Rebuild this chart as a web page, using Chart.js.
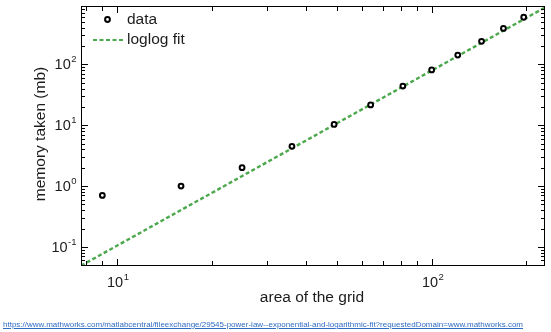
<!DOCTYPE html>
<html>
<head>
<meta charset="utf-8">
<script src="https://cdn.jsdelivr.net/npm/chart.js@4"></script>
<style>
  html, body { margin: 0; padding: 0; background: #fff; }
  #wrap { position: relative; width: 551px; height: 332px; }
  #src {
    position: absolute; left: 3px; top: 320px;
    font: 8px "Liberation Sans", Arial, sans-serif;
    color: #2e6bc4; text-decoration: underline; white-space: nowrap;
  }
</style>
</head>
<body>
<div id="wrap">
  <canvas id="chart" width="551" height="332"></canvas>
  <div id="src">https://www.mathworks.com/matlabcentral/fileexchange/29545-power-law--exponential-and-logarithmic-fit?requestedDomain=www.mathworks.com</div>
</div>
<script>
// grid area vs. memory used
const gridArea = [9, 16, 25, 36, 49, 64, 81, 100, 121, 144, 169, 196];
const memoryMb = [0.7, 1.0, 2.0, 4.5, 10.3, 21.5, 44, 81, 142, 239, 390, 594];

// power-law fit, end points of the straight loglog line
const fitX = [7.7, 229];
const fitY = [0.049, 860];

// axis limits
const xLimits = [7.7, 229];
const yLimits = [0.0485, 910];

const legendLabels = ['data', 'loglog fit'];
const xTitle = 'area of the grid';
const yTitle = 'memory taken (mb)';

const FONT = '"Liberation Sans", Arial, sans-serif';
const INK = '#1c1c1c';
const GREEN = 'rgb(76,168,76)';

function decadeTicks(min, max) {
  const out = [];
  for (let e = Math.floor(Math.log10(min)); e <= Math.ceil(Math.log10(max)); e++) {
    for (let m = 1; m <= 9; m++) {
      const v = m * Math.pow(10, e);
      if (v >= min && v <= max) out.push({ v, major: m === 1, exp: e });
    }
  }
  return out;
}

function powerLabel(ctx, exp, x, y, align) {
  ctx.font = '14.5px ' + FONT;
  const base = '10';
  const bw = ctx.measureText(base).width;
  ctx.font = '9.5px ' + FONT;
  const sup = String(exp);
  const sw = ctx.measureText(sup).width;
  let left = align === 'center' ? x - (bw + sw) / 2 : x - (bw + sw);
  ctx.textBaseline = 'middle';
  ctx.textAlign = 'left';
  ctx.font = '14.5px ' + FONT;
  ctx.fillText(base, left, y);
  ctx.font = '9.5px ' + FONT;
  ctx.fillText(sup, left + bw + 0.5, y - 6);
}

// MATLAB-style box axes with inward ticks, plus the inset legend
const matlabAxes = {
  id: 'matlabAxes',
  afterDraw(chart) {
    const { ctx, chartArea: a, scales: { x, y } } = chart;
    ctx.save();
    ctx.strokeStyle = '#000';
    ctx.fillStyle = INK;
    ctx.lineWidth = 1;

    ctx.strokeRect(Math.round(a.left) + 0.5, Math.round(a.top) + 0.5,
      Math.round(a.right - a.left) - 1, Math.round(a.bottom - a.top) - 1);

    ctx.beginPath();
    decadeTicks(x.min, x.max).forEach(t => {
      const px = Math.round(x.getPixelForValue(t.v)) + 0.5;
      const len = t.major ? 7 : 5;
      ctx.moveTo(px, a.bottom); ctx.lineTo(px, a.bottom - len);
      ctx.moveTo(px, a.top); ctx.lineTo(px, a.top + len);
    });
    decadeTicks(y.min, y.max).forEach(t => {
      const py = Math.round(y.getPixelForValue(t.v)) + 0.5;
      const len = t.major ? 7 : 4;
      ctx.moveTo(a.left, py); ctx.lineTo(a.left + len, py);
      ctx.moveTo(a.right, py); ctx.lineTo(a.right - len, py);
    });
    ctx.stroke();

    decadeTicks(x.min, x.max).filter(t => t.major).forEach(t => {
      powerLabel(ctx, t.exp, x.getPixelForValue(t.v) + 1, a.bottom + 17, 'center');
    });
    decadeTicks(y.min, y.max).filter(t => t.major).forEach(t => {
      powerLabel(ctx, t.exp, a.left - 5, y.getPixelForValue(t.v) + 1, 'right');
    });

    // axis titles
    ctx.font = '15.5px ' + FONT;
    ctx.textAlign = 'center';
    ctx.textBaseline = 'middle';
    ctx.fillText(xTitle, (a.left + a.right) / 2 - 1, 298);
    ctx.save();
    ctx.translate(41, 134);
    ctx.rotate(-Math.PI / 2);
    ctx.fillText(yTitle, 0, 0);
    ctx.restore();

    // legend
    const d0 = chart.data.datasets[0];
    ctx.beginPath();
    ctx.lineWidth = d0.borderWidth;
    ctx.strokeStyle = d0.borderColor;
    ctx.arc(107.5, 19.5, d0.pointRadius, 0, Math.PI * 2);
    ctx.stroke();

    const d1 = chart.data.datasets[1];
    ctx.beginPath();
    ctx.lineWidth = 2;
    ctx.strokeStyle = d1.borderColor;
    ctx.setLineDash(d1.borderDash);
    ctx.moveTo(93, 40); ctx.lineTo(124, 40);
    ctx.stroke();
    ctx.setLineDash([]);

    ctx.fillStyle = INK;
    ctx.font = '15.5px ' + FONT;
    ctx.textAlign = 'left';
    ctx.fillText(legendLabels[0], 127, 20);
    ctx.fillText(legendLabels[1], 127, 40);
    ctx.restore();
  }
};

new Chart(document.getElementById('chart'), {
  type: 'scatter',
  data: {
    datasets: [
      {
        label: legendLabels[0],
        data: gridArea.map((v, i) => ({ x: v, y: memoryMb[i] })),
        pointStyle: 'circle',
        pointRadius: 2.4,
        borderWidth: 2,
        borderColor: '#000',
        backgroundColor: '#fff',
        showLine: false,
        order: 1
      },
      {
        label: legendLabels[1],
        data: fitX.map((v, i) => ({ x: v, y: fitY[i] })),
        showLine: true,
        pointRadius: 0,
        borderColor: GREEN,
        borderWidth: 2.4,
        borderDash: [4, 2.5],
        order: 2
      }
    ]
  },
  options: {
    responsive: false,
    animation: false,
    layout: { padding: { left: 81, right: 5, top: 3, bottom: 66 } },
    plugins: { legend: { display: false }, tooltip: { enabled: false } },
    scales: {
      x: { type: 'logarithmic', min: xLimits[0], max: xLimits[1], display: false },
      y: { type: 'logarithmic', min: yLimits[0], max: yLimits[1], display: false }
    }
  },
  plugins: [matlabAxes]
});
</script>
</body>
</html>
